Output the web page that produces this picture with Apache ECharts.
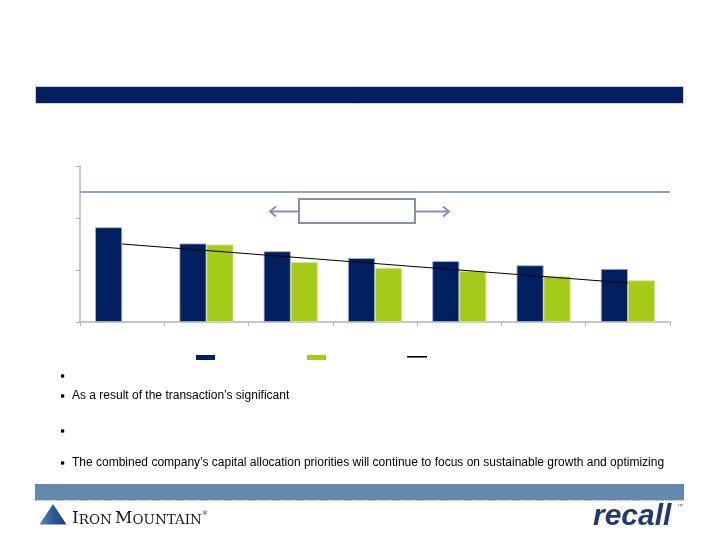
<!DOCTYPE html>
<html>
<head>
<meta charset="utf-8">
<script src="https://cdn.jsdelivr.net/npm/echarts@6/dist/echarts.min.js"></script>
<style>
html,body{margin:0;padding:0;background:#fff;}
#chart{width:720px;height:540px;}
</style>
</head>
<body>
<div id="chart"></div>
<script>
// ---- data ----
const categories = ['P1', 'P2', 'P3', 'P4', 'P5', 'P6', 'P7'];
const darkValues = [1.82, 1.51, 1.36, 1.23, 1.17, 1.09, 1.02];
const greenValues = [null, 1.49, 1.15, 1.04, 0.98, 0.88, 0.80];
const trendValues = [1.5, null, null, null, null, null, 0.75];
const thresholdValue = 2.5;
const yTicks = [0, 1, 2, 3];
const bulletTexts = [
  '',
  'As a result of the transaction\u2019s significant',
  '',
  'The combined company\u2019s capital allocation priorities will continue to focus on sustainable growth and optimizing'
];

const chart = echarts.init(document.getElementById('chart'), null, {renderer: 'canvas'});

const axisColor = '#B5B5B5';
const navy = '#002060';
const green = '#A6CA18';
const slate = '#8690B4';

const bulletY = [376, 396, 431, 463];
const graphics = [];
// title bar
graphics.push({type: 'rect', shape: {x: 35.5, y: 86.5, width: 648, height: 17}, style: {fill: navy, stroke: '#C9D0E2', lineWidth: 1}, z: 1});
// annotation box with arrows
graphics.push({type: 'rect', shape: {x: 299, y: 199, width: 116, height: 24}, style: {fill: '#fff', stroke: slate, lineWidth: 2}, z: 10});
graphics.push({type: 'line', shape: {x1: 299, y1: 211.5, x2: 270, y2: 211.5}, style: {stroke: slate, lineWidth: 2}, z: 10});
graphics.push({type: 'polyline', shape: {points: [[276, 206.5], [270, 211.5], [276, 216.5]]}, style: {stroke: slate, lineWidth: 2, fill: null}, z: 10});
graphics.push({type: 'line', shape: {x1: 415, y1: 211.5, x2: 449, y2: 211.5}, style: {stroke: slate, lineWidth: 2}, z: 10});
graphics.push({type: 'polyline', shape: {points: [[443, 206.5], [449, 211.5], [443, 216.5]]}, style: {stroke: slate, lineWidth: 2, fill: null}, z: 10});
// bullets and text
bulletTexts.forEach(function (t, i) {
  graphics.push({type: 'rect', shape: {x: 61, y: bulletY[i] - 1.6, width: 3.2, height: 3.2}, style: {fill: '#000'}, z: 10});
  if (t) {
    graphics.push({type: 'text', x: 72, y: bulletY[i], style: {text: t, font: '12px "Liberation Sans", Arial, sans-serif', fill: '#000', textVerticalAlign: 'middle', verticalAlign: 'middle'}, z: 10});
  }
});
// footer bar
graphics.push({type: 'rect', shape: {x: 35, y: 484, width: 649, height: 16}, style: {fill: '#6589AE'}, z: 1});
graphics.push({type: 'line', shape: {x1: 35, y1: 500.5, x2: 684, y2: 500.5}, style: {stroke: '#A9C0D8', lineWidth: 1, lineDash: [2, 1]}, z: 2});
// Iron Mountain logo
graphics.push({type: 'polygon', shape: {points: [[53, 504], [39.5, 524.5], [66.5, 524.5]]},
  style: {fill: new echarts.graphic.LinearGradient(0, 0, 1, 0, [{offset: 0, color: '#5E86B8'}, {offset: 0.5, color: '#2E5A96'}, {offset: 1, color: '#1B3F7C'}])}, z: 10});
graphics.push({type: 'text', x: 72, y: 527, style: {
  text: '{b|I}{s|RON} {b|M}{s|OUNTAIN}{r|®}',
  verticalAlign: 'bottom', textVerticalAlign: 'bottom',
  rich: {
    b: {font: '17px "DejaVu Serif", serif', fill: '#1a1a1a', verticalAlign: 'bottom'},
    s: {font: '13.5px "DejaVu Serif", serif', fill: '#1a1a1a', verticalAlign: 'bottom'},
    r: {font: '6px "DejaVu Serif", serif', fill: '#1a1a1a', verticalAlign: 'top'}
  }}, z: 10});
// recall logo
graphics.push({type: 'text', x: 593, y: 532, style: {text: 'recall', font: 'italic bold 30px "Liberation Sans", Arial, sans-serif', fill: '#233A70', textVerticalAlign: 'bottom', verticalAlign: 'bottom'}, z: 10});
graphics.push({type: 'text', x: 677, y: 506, style: {text: '™', font: '6px "Liberation Sans", Arial, sans-serif', fill: '#555', textVerticalAlign: 'middle', verticalAlign: 'middle'}, z: 10});

const legendCommon = {
  orient: 'horizontal', itemGap: 0, padding: 0, formatter: function () { return ''; },
  textStyle: {fontSize: 1}, selectedMode: false
};

chart.setOption({
  animation: false,
  backgroundColor: '#fff',
  grid: {left: 80, right: 50, top: 166, bottom: 218, containLabel: false},
  legend: [
    Object.assign({}, legendCommon, {data: [{name: 'Series A', icon: 'rect', itemStyle: {borderWidth: 0}}], left: 196, top: 355, itemWidth: 19, itemHeight: 5}),
    Object.assign({}, legendCommon, {data: [{name: 'Series B', icon: 'rect', itemStyle: {borderWidth: 0}}], left: 307, top: 355, itemWidth: 19, itemHeight: 5}),
    Object.assign({}, legendCommon, {data: [{name: 'Trend', icon: 'rect', itemStyle: {borderWidth: 0}}], left: 407, top: 356, itemWidth: 20, itemHeight: 1.6})
  ],
  xAxis: {
    type: 'category', data: categories, boundaryGap: true,
    axisLine: {show: true, lineStyle: {color: axisColor, width: 1.5}},
    axisTick: {show: true, length: 4, lineStyle: {color: axisColor}},
    axisLabel: {show: false}, splitLine: {show: false}
  },
  yAxis: {
    type: 'value', min: yTicks[0], max: yTicks[yTicks.length - 1], interval: 1,
    axisLine: {show: true, lineStyle: {color: axisColor, width: 1.5}},
    axisTick: {show: true, length: 4, lineStyle: {color: axisColor}},
    axisLabel: {show: false}, splitLine: {show: false}
  },
  series: [
    {
      name: 'Series A', type: 'bar', data: darkValues, barWidth: 27, barGap: '0%',
      itemStyle: {color: navy, borderColor: '#A9B3D0', borderWidth: 0.8},
      markLine: {
        silent: true, symbol: 'none', label: {show: false},
        lineStyle: {color: '#98A0C0', width: 2.2, type: 'solid'},
        data: [{yAxis: thresholdValue}]
      },
      z: 2
    },
    {
      name: 'Series B', type: 'bar', data: greenValues, barWidth: 27, barGap: '0%',
      itemStyle: {color: green, borderColor: '#D3E58E', borderWidth: 0.8},
      z: 2
    },
    {
      name: 'Trend', type: 'line', data: trendValues, connectNulls: true,
      showSymbol: false, symbol: 'none',
      lineStyle: {color: '#000', width: 1.2},
      itemStyle: {color: '#000'},
      z: 5
    }
  ],
  graphic: graphics
});
</script>
</body>
</html>
